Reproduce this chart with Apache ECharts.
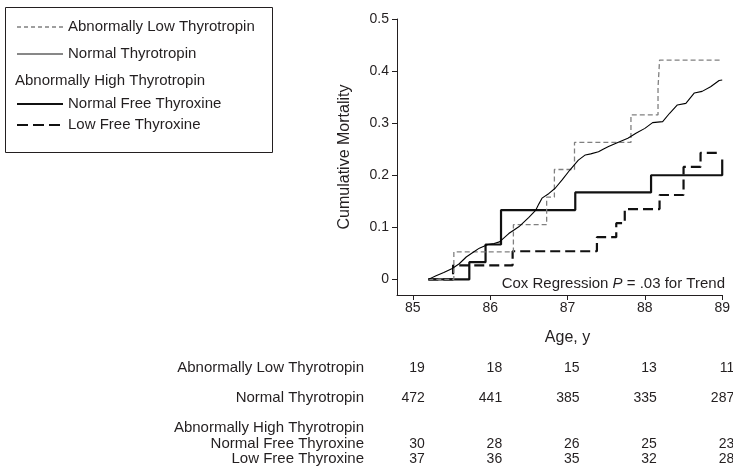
<!DOCTYPE html>
<html>
<head>
<meta charset="utf-8">
<title>Cumulative Mortality by Thyrotropin Group</title>
<script src="https://cdn.jsdelivr.net/npm/echarts@6/dist/echarts.min.js"></script>
<style>
  html, body { margin: 0; padding: 0; background: #fff; }
  #chart { width: 733px; height: 474px; }
</style>
</head>
<body>
<div id="chart"></div>
<script>
// age (y) at which each step starts, and cumulative mortality from there
var lowTshAge = [85.2, 85.53, 86.3, 86.73, 86.83, 87.09, 87.82, 88.17, 88.19, 88.98];
var lowTshVal = [0, 0.053, 0.105, 0.158, 0.211, 0.263, 0.316, 0.368, 0.421, 0.421];

var normalTshAge = [85.2, 85.3, 85.4, 85.51, 85.6, 85.69, 85.78, 85.86, 85.97, 86.05, 86.12, 86.24, 86.37, 86.5, 86.59, 86.63, 86.67, 86.76, 86.84, 86.93, 87.03, 87.14, 87.23, 87.3, 87.4, 87.46, 87.53, 87.65, 87.78, 87.89, 88.0, 88.1, 88.23, 88.32, 88.42, 88.53, 88.64, 88.74, 88.85, 88.96, 89.0];
var normalTshVal = [0, 0.007, 0.013, 0.021, 0.03, 0.043, 0.052, 0.06, 0.067, 0.069, 0.072, 0.088, 0.101, 0.119, 0.133, 0.145, 0.156, 0.165, 0.175, 0.191, 0.21, 0.229, 0.239, 0.241, 0.245, 0.25, 0.255, 0.263, 0.271, 0.281, 0.29, 0.301, 0.303, 0.319, 0.335, 0.338, 0.358, 0.361, 0.37, 0.382, 0.383];

var normalFt4Age = [85.2, 85.73, 85.94, 86.14, 87.1, 88.08, 89.0];
var normalFt4Val = [0, 0.033, 0.067, 0.133, 0.167, 0.2, 0.23];

var lowFt4Age = [85.2, 85.52, 86.29, 87.38, 87.63, 87.74, 88.19, 88.5, 88.72, 88.96];
var lowFt4Val = [0, 0.027, 0.054, 0.081, 0.108, 0.135, 0.162, 0.216, 0.243, 0.243];

var xTicks = [85, 86, 87, 88, 89];
var yTicks = [0, 0.1, 0.2, 0.3, 0.4, 0.5];

// numbers at risk
var riskRows = ['Abnormally Low Thyrotropin', 'Normal Thyrotropin', 'Abnormally High Thyrotropin', 'Normal Free Thyroxine', 'Low Free Thyroxine'];
var riskLowTsh = [19, 18, 15, 13, 11];
var riskNormalTsh = [472, 441, 385, 335, 287];
var riskNormalFt4 = [30, 28, 26, 25, 23];
var riskLowFt4 = [37, 36, 35, 32, 28];

var FONT = '"Liberation Sans", Arial, Helvetica, sans-serif';
var INK = '#231f20';

function pairs(xs, ys) {
  return xs.map(function (x, i) { return [x, ys[i]]; });
}

var chart = echarts.init(document.getElementById('chart'));

chart.setOption({
  animation: false,
  textStyle: { fontFamily: FONT, color: INK },
  grid: { left: 397, right: 8, top: 19, bottom: 179, containLabel: false },
  xAxis: {
    type: 'value',
    min: 84.795,
    max: 89,
    axisLine: { show: true, onZero: false, lineStyle: { color: INK, width: 1 } },
    axisTick: { show: true, length: 5, inside: false, customValues: xTicks, lineStyle: { color: INK } },
    axisLabel: { customValues: xTicks, margin: 6, fontSize: 14, color: INK, fontFamily: FONT },
    splitLine: { show: false }
  },
  yAxis: {
    type: 'value',
    min: -0.03,
    max: 0.5,
    name: 'Cumulative Mortality',
    nameLocation: 'middle',
    nameGap: 44,
    nameTextStyle: { fontSize: 16, color: INK, fontFamily: FONT },
    axisLine: { show: true, onZero: false, lineStyle: { color: INK, width: 1 } },
    axisTick: { show: true, length: 5, customValues: yTicks, lineStyle: { color: INK } },
    axisLabel: {
      customValues: yTicks, margin: 8, fontSize: 14, color: INK, fontFamily: FONT,
      formatter: function (v) { return v === 0 ? '0' : v.toFixed(1); }
    },
    splitLine: { show: false }
  },
  series: [
    {
      name: 'Abnormally Low Thyrotropin', type: 'line', step: 'end', showSymbol: false,
      data: pairs(lowTshAge, lowTshVal),
      lineStyle: { color: '#808080', width: 1.3, type: [5, 3] }, z: 3
    },
    {
      name: 'Normal Thyrotropin', type: 'line', showSymbol: false,
      data: pairs(normalTshAge, normalTshVal),
      lineStyle: { color: '#000', width: 1.1 }, z: 4
    },
    {
      name: 'Normal Free Thyroxine', type: 'line', step: 'end', showSymbol: false,
      data: pairs(normalFt4Age, normalFt4Val),
      lineStyle: { color: '#111', width: 2.2 }, z: 2
    },
    {
      name: 'Low Free Thyroxine', type: 'line', step: 'end', showSymbol: false,
      data: pairs(lowFt4Age, lowFt4Val),
      lineStyle: { color: '#111', width: 2.2, type: [10, 5] }, z: 2
    }
  ]
});

// legend box, Cox note and numbers-at-risk table
var g = [];
g.push({ type: 'rect', shape: { x: 5.5, y: 7.5, width: 267, height: 145 },
  style: { fill: 'none', stroke: INK, lineWidth: 1 } });

var legendItems = [
  { y: 27, text: 'Abnormally Low Thyrotropin', line: { stroke: '#808080', lineWidth: 1.3, lineDash: [4, 3] } },
  { y: 54, text: 'Normal Thyrotropin', line: { stroke: '#111', lineWidth: 1 } },
  { y: 81, text: 'Abnormally High Thyrotropin', line: null },
  { y: 104, text: 'Normal Free Thyroxine', line: { stroke: '#111', lineWidth: 2.2 } },
  { y: 125, text: 'Low Free Thyroxine', line: { stroke: '#111', lineWidth: 2.2, lineDash: [11, 5] } }
];
legendItems.forEach(function (it) {
  if (it.line) {
    g.push({ type: 'line', shape: { x1: 17, y1: it.y, x2: 63, y2: it.y }, style: it.line });
  }
  g.push({ type: 'text', x: it.line ? 68 : 15, y: it.y,
    style: { text: it.text, font: '15px ' + FONT, fill: INK, verticalAlign: 'middle' } });
});

g.push({ type: 'text', x: 725, y: 284,
  style: {
    text: 'Cox Regression {i|P} = .03 for Trend',
    font: '15px ' + FONT, fill: INK, align: 'right', verticalAlign: 'middle',
    rich: { i: { fontStyle: 'italic', fontSize: 15, fontFamily: FONT, fill: INK } }
  } });

var ageCenter = chart.convertToPixel({ xAxisIndex: 0 }, 87);
g.push({ type: 'text', x: ageCenter, y: 338,
  style: { text: 'Age, y', font: '16px ' + FONT, fill: INK, align: 'center', verticalAlign: 'middle' } });

var rowY = [368, 398, 428, 444, 459];
var rowVals = [riskLowTsh, riskNormalTsh, null, riskNormalFt4, riskLowFt4];
riskRows.forEach(function (label, r) {
  g.push({ type: 'text', x: 364, y: rowY[r],
    style: { text: label, font: '15px ' + FONT, fill: INK, align: 'right', verticalAlign: 'middle' } });
  if (rowVals[r]) {
    rowVals[r].forEach(function (v, c) {
      var px = chart.convertToPixel({ xAxisIndex: 0 }, xTicks[c]);
      g.push({ type: 'text', x: px + 12, y: rowY[r],
        style: { text: String(v), font: '14px ' + FONT, fill: INK, align: 'right', verticalAlign: 'middle' } });
    });
  }
});

chart.setOption({ graphic: g });
</script>
</body>
</html>
